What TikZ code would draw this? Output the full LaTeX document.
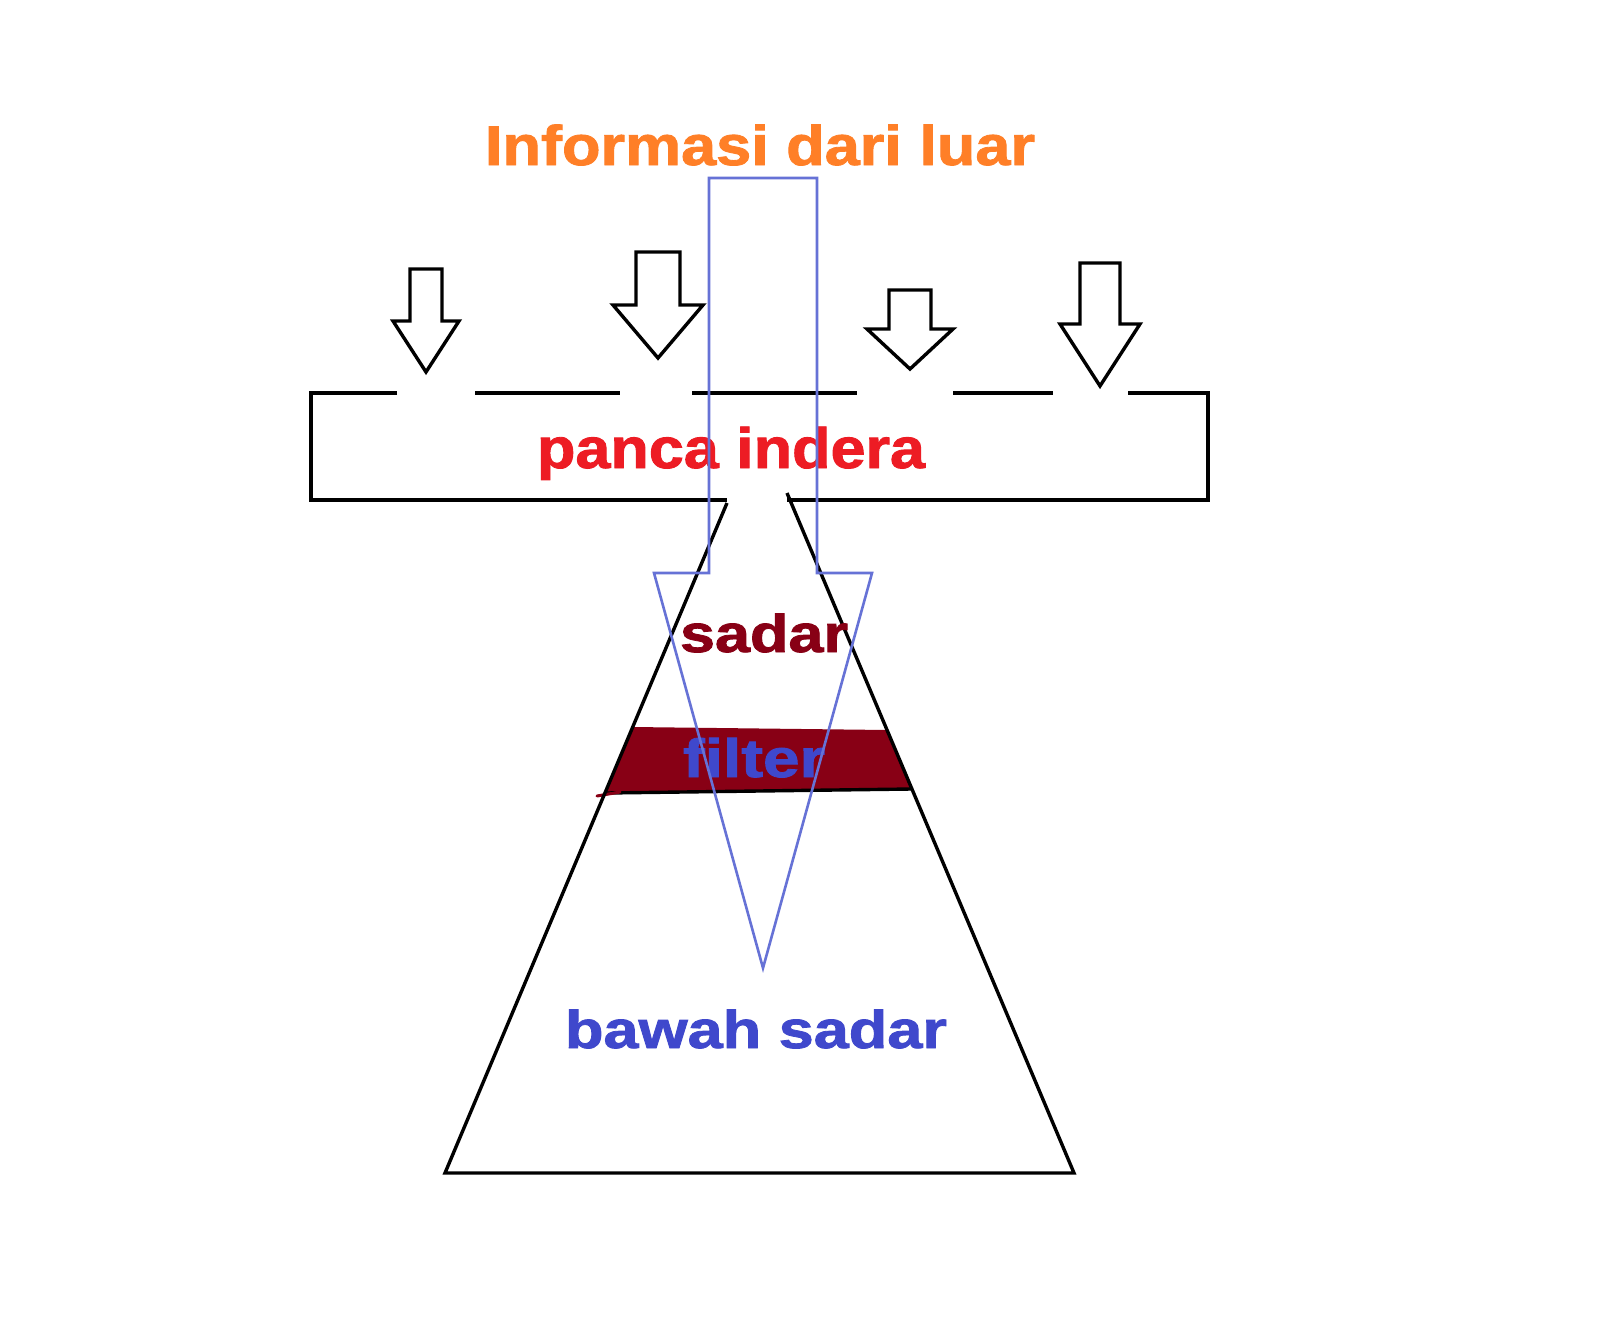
\documentclass[tikz,border=0pt]{standalone}
\usepackage{fontspec}
\setmainfont{Liberation Sans}[BoldFeatures={FakeBold=1.5}]
\usepackage{graphicx}
\definecolor{orange}{HTML}{FF7F27}
\definecolor{red}{HTML}{ED1C24}
\definecolor{maroon}{HTML}{880015}
\definecolor{blue}{HTML}{3F48CC}
\definecolor{flowblue}{HTML}{6672D6}
% stretch a label to a given width, keeping its height
\newcommand\wide[2]{\resizebox{#1}{\height}{#2}}

\begin{document}
\begin{tikzpicture}[x=0.5pt, y=-0.5pt, every node/.style={font=\bfseries, inner sep=0pt, anchor=base},
  outline/.style={line width=1.7pt, black, miter limit=4},
  flow/.style={line width=1.3pt, flowblue}]
  % canvas
  \fill[white] (0,0) rectangle (1600,1323);
  \useasboundingbox (0,0) rectangle (1600,1323);

  % filter band
  \fill[maroon] (633,727) -- (887,730) -- (911,789) -- (606,793) -- cycle;
  \draw[outline] (606,793) -- (911,789);
  \draw[maroon, line width=1.5pt, line cap=round] (597,796) -- (620,792);

  % panca indera box, top edge open below the small arrows
  \draw[outline] (397,393) -- (311,393) -- (311,500) -- (727,500);
  \draw[outline] (787,500) -- (1208,500) -- (1208,393) -- (1128,393);
  \draw[outline] (475,393) -- (620,393);
  \draw[outline] (692,393) -- (857,393);
  \draw[outline] (953,393) -- (1053,393);

  % trapezoid below the box
  \draw[outline] (727,503) -- (445,1173) -- (1074,1173) -- (787,493);

  % small arrows into the box
  \foreach \x/\t/\s/\w/\h/\p in {426/269/321/16/33/372, 658/252/305/22/45/358,
      910/290/329/21/43/369, 1100/263/324/20/40/386}
    \draw[outline, fill=white] (\x-\w,\t) -- (\x+\w,\t) -- (\x+\w,\s) -- (\x+\h,\s)
      -- (\x,\p) -- (\x-\h,\s) -- (\x-\w,\s) -- cycle;

  % labels
  \node[text=orange, font=\bfseries\fontsize{28pt}{30pt}\selectfont] (info) at (760,165) {\wide{275pt}{Informasi dari luar}};
  \node[text=red, font=\bfseries\fontsize{28.5pt}{30pt}\selectfont] (panca) at (731,468) {\wide{194pt}{panca indera}};
  \node[text=maroon, font=\bfseries\fontsize{26.5pt}{28pt}\selectfont] (sadar) at (764,652) {\wide{84pt}{sadar}};
  \node[text=blue, font=\bfseries\fontsize{27pt}{28pt}\selectfont] (filter) at (754,777) {\wide{71pt}{filter}};
  \node[text=blue, font=\bfseries\fontsize{26.5pt}{28pt}\selectfont] (bawah) at (756,1048) {\wide{191pt}{bawah sadar}};

  % big arrow of incoming information
  \draw[flow, line join=miter] (709,178) -- (817,178) -- (817,573) -- (872,573) -- (763,968)
    -- (654,573) -- (709,573) -- cycle;
\end{tikzpicture}
\end{document}
